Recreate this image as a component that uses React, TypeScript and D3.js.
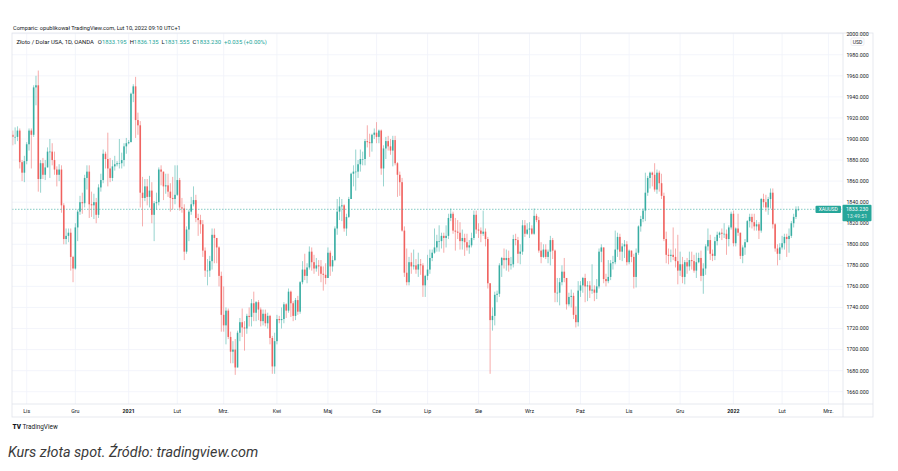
import * as d3 from "d3";

// XAUUSD (OANDA), 1D, one candle per weekday from 23.10.2020 to 10.02.2022
// open of each candle = previous close (first / last taken from the header)
const firstOpen = 1904;
const lastOpen = 1833.195;

const closes = [
  // paź 2020
  1902, 1902, 1908, 1878, 1868, 1879,
  // lis
  1895, 1908, 1904, 1949, 1951, 1862, 1877, 1866, 1873, 1888, 1888, 1880, 1871, 1866, 1871, 1837, 1805, 1808, 1811, 1788, 1777,
  // gru
  1816, 1831, 1840, 1839, 1863, 1869, 1838, 1837, 1840, 1828, 1854, 1861, 1886, 1881, 1872, 1863, 1874, 1876, 1877, 1877, 1880, 1893, 1896,
  // sty 2021
  1897, 1943, 1950, 1918, 1913, 1849, 1844, 1855, 1845, 1851, 1828, 1839, 1840, 1871, 1869, 1855, 1856, 1850, 1844, 1843, 1847,
  // lut
  1861, 1835, 1834, 1793, 1814, 1831, 1838, 1842, 1825, 1823, 1819, 1794, 1775, 1775, 1784, 1809, 1806, 1797, 1770, 1733,
  // mrz
  1723, 1737, 1712, 1698, 1700, 1683, 1716, 1726, 1721, 1720, 1732, 1731, 1744, 1735, 1745, 1738, 1727, 1734, 1725, 1732, 1711, 1684, 1708,
  // kwi
  1729, 1728, 1729, 1743, 1737, 1755, 1744, 1732, 1747, 1736, 1764, 1776, 1770, 1778, 1793, 1783, 1777, 1780, 1779, 1772, 1771, 1768,
  // maj
  1792, 1779, 1785, 1815, 1831, 1836, 1837, 1815, 1826, 1843, 1867, 1869, 1869, 1876, 1881, 1881, 1898, 1897, 1896, 1904, 1906,
  // cze
  1902, 1908, 1872, 1891, 1898, 1893, 1889, 1899, 1877, 1866, 1859, 1813, 1773, 1764, 1783, 1779, 1780, 1776, 1781, 1780, 1761, 1770,
  // lip
  1776, 1787, 1792, 1797, 1803, 1803, 1808, 1806, 1808, 1825, 1829, 1813, 1812, 1811, 1803, 1806, 1802, 1797, 1799, 1806, 1828, 1814,
  // sie
  1813, 1810, 1812, 1805, 1763, 1728, 1732, 1752, 1753, 1780, 1787, 1785, 1787, 1780, 1781, 1805, 1804, 1791, 1793, 1818, 1810, 1814,
  // wrz
  1815, 1810, 1827, 1823, 1794, 1788, 1795, 1788, 1793, 1804, 1794, 1754, 1754, 1764, 1774, 1768, 1743, 1750, 1751, 1733, 1726, 1756,
  // paź
  1761, 1768, 1760, 1761, 1756, 1757, 1754, 1760, 1793, 1797, 1767, 1765, 1769, 1782, 1783, 1795, 1807, 1793, 1798, 1800, 1783,
  // lis
  1794, 1788, 1769, 1792, 1817, 1824, 1832, 1849, 1863, 1868, 1866, 1852, 1868, 1858, 1846, 1805, 1790, 1789, 1790, 1788, 1784, 1775,
  // gru
  1781, 1769, 1783, 1779, 1785, 1784, 1775, 1783, 1787, 1770, 1777, 1798, 1804, 1791, 1789, 1803, 1809, 1811, 1810, 1810, 1805, 1816, 1829,
  // sty 2022
  1801, 1815, 1811, 1789, 1797, 1802, 1822, 1826, 1821, 1817, 1819, 1813, 1843, 1840, 1835, 1843, 1849, 1819, 1796, 1791, 1797,
  // lut
  1801, 1807, 1805, 1808, 1820, 1826, 1833, 1833.23,
];

const highs = [
  1908, 1911, 1912, 1910, 1880, 1884,
  1897, 1910, 1910, 1951, 1960, 1965, 1880, 1882, 1880, 1892, 1900, 1896, 1888, 1874, 1876, 1875, 1839, 1815, 1815, 1815, 1789,
  1820, 1833, 1846, 1849, 1866, 1875, 1875, 1850, 1848, 1844, 1857, 1867, 1890, 1888, 1906, 1882, 1880, 1884, 1879, 1900, 1887, 1896, 1901,
  1899, 1944, 1952, 1959, 1925, 1917, 1864, 1862, 1862, 1865, 1859, 1841, 1849, 1873, 1875, 1869, 1867, 1867, 1858, 1864, 1875,
  1875, 1863, 1844, 1838, 1817, 1833, 1845, 1855, 1847, 1829, 1828, 1823, 1797, 1786, 1789, 1815, 1815, 1806, 1798, 1774,
  1760, 1740, 1739, 1717, 1708, 1710, 1718, 1730, 1739, 1727, 1734, 1740, 1748, 1755, 1746, 1747, 1740, 1738, 1738, 1735, 1733, 1713, 1716,
  1733, 1732, 1740, 1745, 1744, 1758, 1756, 1746, 1749, 1751, 1765, 1784, 1791, 1782, 1798, 1797, 1790, 1787, 1785, 1785, 1779, 1782,
  1797, 1794, 1789, 1817, 1843, 1845, 1843, 1838, 1829, 1845, 1868, 1875, 1890, 1880, 1890, 1888, 1900, 1913, 1905, 1905, 1910,
  1916, 1909, 1909, 1894, 1902, 1903, 1900, 1903, 1903, 1878, 1869, 1863, 1817, 1796, 1788, 1792, 1795, 1786, 1792, 1786, 1782, 1771,
  1790, 1795, 1795, 1815, 1809, 1818, 1811, 1811, 1818, 1829, 1834, 1831, 1825, 1823, 1821, 1814, 1810, 1810, 1804, 1811, 1832, 1832,
  1820, 1816, 1832, 1815, 1807, 1763, 1740, 1755, 1756, 1782, 1788, 1796, 1795, 1794, 1788, 1809, 1810, 1807, 1800, 1823, 1823, 1820,
  1821, 1818, 1834, 1829, 1826, 1802, 1800, 1800, 1795, 1808, 1806, 1795, 1768, 1768, 1780, 1787, 1768, 1754, 1757, 1754, 1741, 1765,
  1765, 1769, 1772, 1765, 1765, 1781, 1761, 1767, 1796, 1800, 1796, 1772, 1785, 1785, 1789, 1813, 1811, 1810, 1801, 1804, 1803,
  1795, 1794, 1791, 1796, 1818, 1827, 1834, 1868, 1865, 1869, 1869, 1877, 1871, 1870, 1867, 1849, 1812, 1796, 1795, 1816, 1796, 1809,
  1793, 1788, 1785, 1787, 1793, 1793, 1790, 1792, 1792, 1794, 1782, 1800, 1815, 1809, 1795, 1807, 1812, 1812, 1815, 1820, 1814, 1818, 1831,
  1832, 1816, 1829, 1811, 1799, 1805, 1823, 1829, 1829, 1829, 1823, 1821, 1844, 1848, 1847, 1845, 1853, 1853, 1820, 1800, 1801,
  1808, 1810, 1810, 1815, 1822, 1829, 1836, 1836.135,
];

const lows = [
  1894, 1895, 1898, 1872, 1860, 1859,
  1876, 1889, 1872, 1902, 1932, 1850, 1849, 1862, 1861, 1873, 1863, 1875, 1866, 1855, 1860, 1830, 1800, 1800, 1802, 1775, 1764,
  1776, 1803, 1828, 1829, 1835, 1852, 1825, 1826, 1824, 1820, 1825, 1850, 1858, 1872, 1855, 1859, 1860, 1870, 1874, 1872, 1872, 1874, 1886,
  1895, 1900, 1935, 1901, 1904, 1835, 1817, 1841, 1837, 1835, 1820, 1803, 1833, 1837, 1856, 1842, 1848, 1845, 1831, 1833, 1838,
  1846, 1832, 1830, 1785, 1791, 1803, 1828, 1836, 1821, 1808, 1810, 1788, 1769, 1761, 1769, 1776, 1782, 1782, 1760, 1717,
  1717, 1705, 1710, 1687, 1687, 1676, 1683, 1708, 1712, 1699, 1715, 1722, 1722, 1727, 1727, 1728, 1722, 1723, 1722, 1720, 1705, 1677, 1677,
  1705, 1725, 1720, 1725, 1730, 1735, 1731, 1727, 1728, 1733, 1734, 1762, 1766, 1763, 1776, 1775, 1772, 1774, 1770, 1764, 1756, 1762,
  1769, 1770, 1774, 1784, 1809, 1823, 1822, 1812, 1808, 1825, 1843, 1855, 1851, 1863, 1869, 1875, 1875, 1892, 1883, 1888, 1900,
  1896, 1896, 1866, 1855, 1881, 1889, 1885, 1874, 1875, 1845, 1846, 1812, 1769, 1761, 1761, 1772, 1776, 1772, 1769, 1771, 1750, 1750,
  1766, 1772, 1784, 1791, 1793, 1793, 1796, 1792, 1797, 1805, 1822, 1810, 1794, 1805, 1795, 1795, 1789, 1794, 1791, 1797, 1804, 1810,
  1806, 1802, 1808, 1798, 1758, 1677, 1718, 1723, 1745, 1750, 1769, 1777, 1775, 1774, 1776, 1778, 1799, 1782, 1781, 1790, 1807, 1809,
  1806, 1809, 1809, 1821, 1792, 1782, 1787, 1786, 1782, 1780, 1786, 1745, 1745, 1742, 1761, 1764, 1738, 1741, 1740, 1729, 1721, 1722,
  1750, 1754, 1745, 1746, 1749, 1753, 1746, 1748, 1758, 1783, 1763, 1760, 1763, 1766, 1776, 1781, 1788, 1785, 1784, 1787, 1780,
  1781, 1783, 1758, 1759, 1790, 1812, 1821, 1822, 1846, 1853, 1855, 1850, 1848, 1850, 1843, 1803, 1782, 1781, 1783, 1785, 1778, 1762,
  1770, 1763, 1762, 1772, 1775, 1776, 1773, 1768, 1782, 1765, 1753, 1771, 1794, 1785, 1784, 1785, 1799, 1806, 1804, 1806, 1790, 1798, 1814,
  1798, 1798, 1808, 1786, 1782, 1790, 1802, 1816, 1815, 1813, 1813, 1805, 1811, 1835, 1831, 1828, 1834, 1815, 1793, 1780, 1785,
  1795, 1795, 1788, 1792, 1806, 1816, 1824, 1831.555,
];

const priceTicks = d3.range(1660, 2001, 20);
const monthNames = ["Sty", "Lut", "Mrz.", "Kwi", "Maj", "Cze", "Lip", "Sie", "Wrz", "Paź", "Lis", "Gru"];
const header = "Comparic: opublikował TradingView.com, Lut 10, 2022 09:10 UTC+1";
const symbolTitle = "Złoto / Dolar USA, 1D, OANDA";
const ohlc = [
  ["O", "1833.195"],
  ["H", "1836.135"],
  ["L", "1831.555"],
  ["C", "1833.230"],
];
const change = "+0.035 (+0.00%)";
const lastPrice = 1833.23;
const countdown = "13:49:51";
const caption = "Kurs złota spot. Źródło: tradingview.com";

const UP = "#26a69a";
const DOWN = "#ef5350";
const GRID = "#f0f3fa";
const BORDER = "#e0e3eb";
const TEXT = "#131722";
const FONT = "Roboto, 'Noto Sans', sans-serif";

// frame
const left = 12;
const top = 33;
const plotRight = 843;
const right = 873;
const plotBottom = 404;
const bottom = 417;

export default function App() {
  const n = closes.length;
  // weekdays from the first candle, a few weeks beyond the last one for the time axis
  const days = d3
    .utcDay.range(new Date(Date.UTC(2020, 9, 23)), new Date(Date.UTC(2022, 2, 3)))
    .filter((d) => d.getUTCDay() % 6 !== 0);

  const x = d3.scaleLinear().domain([0, n - 1]).range([12.8, 798.3]);
  const y = d3.scaleLinear().domain([1660, 2000]).range([391.7, 33.7]);

  const opens = closes.map((c, i) => (i === 0 ? firstOpen : i === n - 1 ? lastOpen : closes[i - 1]));

  const monthTicks = days
    .map((d, i) => ({ d, i }))
    .filter(({ d, i }) => i > 0 && d.getUTCMonth() !== days[i - 1].getUTCMonth())
    .map(({ d, i }) => ({
      i,
      label: d.getUTCMonth() === 0 ? String(d.getUTCFullYear()) : monthNames[d.getUTCMonth()],
      year: d.getUTCMonth() === 0,
    }));

  const bodyW = 1.6;
  const yLast = y(lastPrice);

  return (
    <svg
      width={898}
      height={471}
      style={{ position: "absolute", left: 0, top: 0, background: "#fff", fontFamily: FONT }}
    >
      <defs>
        <clipPath id="plot">
          <rect x={left} y={top} width={plotRight - left} height={plotBottom - top} />
        </clipPath>
      </defs>
      <rect width={898} height={471} fill="#fff" />

      {/* header */}
      <text x={13} y={30} fontSize={5.6} fill={TEXT}>
        {header}
      </text>

      {/* grid */}
      <g stroke={GRID} strokeWidth={0.8}>
        {priceTicks.map((p) => (
          <line key={p} x1={left} x2={plotRight} y1={y(p)} y2={y(p)} />
        ))}
        {monthTicks.map((t) => (
          <line key={t.i} x1={x(t.i)} x2={x(t.i)} y1={top} y2={plotBottom} />
        ))}
      </g>

      {/* candles */}
      <g clipPath="url(#plot)">
        {closes.map((c, i) => {
          const o = opens[i];
          const hi = Math.max(highs[i], o, c);
          const lo = Math.min(lows[i], o, c);
          const col = c >= o ? UP : DOWN;
          const cx = x(i);
          const yt = y(Math.max(o, c));
          const yb = y(Math.min(o, c));
          return (
            <g key={i}>
              <line x1={cx} x2={cx} y1={y(hi)} y2={y(lo)} stroke={col} strokeWidth={0.8} opacity={0.6} />
              <rect x={cx - bodyW / 2} y={yt} width={bodyW} height={Math.max(0.6, yb - yt)} fill={col} opacity={0.85} />
            </g>
          );
        })}
      </g>

      {/* last price line */}
      <line
        x1={left}
        x2={plotRight}
        y1={yLast}
        y2={yLast}
        stroke={UP}
        strokeWidth={0.7}
        strokeDasharray="1.5,1.5"
        opacity={0.8}
      />
      <rect x={815.5} y={yLast - 3.6} width={25.5} height={7.4} rx={1} fill={UP} />
      <text x={828.2} y={yLast + 1.9} fontSize={5} fill="#fff" textAnchor="middle">
        XAUUSD
      </text>

      {/* title line */}
      <text x={16.5} y={44} fontSize={5.9} fill={TEXT}>
        <tspan>{symbolTitle}</tspan>
        {ohlc.map(([k, v], j) => (
          <tspan key={k} dx={j === 0 ? 4 : 3}>
            <tspan fill={TEXT}>{k}</tspan>
            <tspan fill={UP}>{v}</tspan>
          </tspan>
        ))}
        <tspan dx={3} fill={UP}>
          {change}
        </tspan>
      </text>

      {/* frame & axes */}
      <rect x={left} y={top} width={right - left} height={bottom - top} fill="none" stroke={BORDER} strokeWidth={0.8} />
      <line x1={plotRight} x2={plotRight} y1={top} y2={bottom} stroke={BORDER} strokeWidth={0.8} />
      <line x1={left} x2={right} y1={plotBottom} y2={plotBottom} stroke={BORDER} strokeWidth={0.8} />

      <g fontSize={5.3} fill={TEXT} textAnchor="middle">
        {priceTicks.map((p) => (
          <text key={p} x={857.5} y={y(p) + 1.9}>
            {d3.format(".3f")(p)}
          </text>
        ))}
      </g>
      <rect x={851} y={38} width={13} height={7.5} rx={1.5} fill="#fff" stroke={BORDER} strokeWidth={0.6} />
      <text x={857.5} y={43.6} fontSize={5} fill={TEXT} textAnchor="middle">
        USD
      </text>

      <rect x={842.5} y={yLast - 4.6} width={29} height={16.5} rx={1} fill={UP} />
      <text x={857} y={yLast + 1.9} fontSize={5.3} fill="#fff" textAnchor="middle">
        {d3.format(".3f")(lastPrice)}
      </text>
      <text x={857} y={yLast + 8.4} fontSize={5.3} fill="#fff" fillOpacity={0.8} textAnchor="middle">
        {countdown}
      </text>

      <g fontSize={5.3} fill={TEXT} textAnchor="middle">
        {monthTicks.map((t) => (
          <text key={t.i} x={x(t.i)} y={412.5} fontWeight={t.year ? 700 : 400}>
            {t.label}
          </text>
        ))}
      </g>

      {/* TradingView mark */}
      <text x={12.5} y={429} fontSize={6.5} fill={TEXT} fontWeight={900}>
        TV
      </text>
      <text x={22.5} y={429} fontSize={6.4} fill={TEXT}>
        TradingView
      </text>

      {/* caption */}
      <text x={8} y={456.5} fontSize={14.4} fontStyle="italic" fill="#3a3a3a">
        {caption}
      </text>
    </svg>
  );
}
